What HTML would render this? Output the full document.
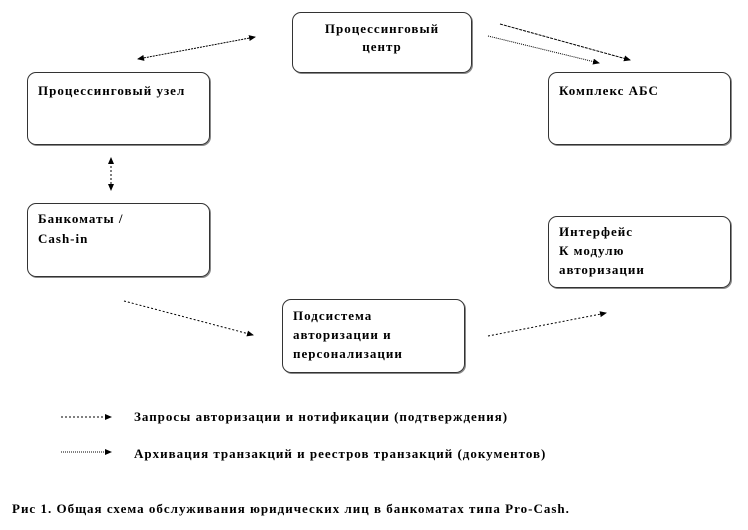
<!DOCTYPE html>
<html><head><meta charset="utf-8"><style>
body{margin:0;background:#fff;width:748px;height:530px;overflow:hidden;position:relative;font-family:"Liberation Serif",serif;font-weight:bold;font-size:13px;color:#000}
.b{position:absolute;border:1px solid #333;border-radius:9px;box-shadow:1px 1px 0 #888}
.t{position:absolute;white-space:nowrap;letter-spacing:1px}
svg{position:absolute;left:0;top:0}
</style></head><body>
<div class="b" style="left:292px;top:12px;width:178px;height:59px"></div>
<div class="b" style="left:27px;top:72px;width:181px;height:71px"></div>
<div class="b" style="left:548px;top:72px;width:181px;height:71px"></div>
<div class="b" style="left:27px;top:203px;width:181px;height:72px"></div>
<div class="b" style="left:548px;top:216px;width:181px;height:70px"></div>
<div class="b" style="left:282px;top:299px;width:181px;height:72px"></div>

<div class="t" style="left:292px;width:180px;text-align:center;top:21px">Процессинговый</div>
<div class="t" style="left:292px;width:180px;text-align:center;top:39px">центр</div>
<div class="t" style="left:38px;top:83px">Процессинговый узел</div>
<div class="t" style="left:559px;top:83px">Комплекс АБС</div>
<div class="t" style="left:38px;top:211px">Банкоматы /</div>
<div class="t" style="left:38px;top:231px">Cash-in</div>
<div class="t" style="left:559px;top:224px">Интерфейс</div>
<div class="t" style="left:559px;top:243px">К модулю</div>
<div class="t" style="left:559px;top:262px">авторизации</div>
<div class="t" style="left:293px;top:308px">Подсистема</div>
<div class="t" style="left:293px;top:327px">авторизации и</div>
<div class="t" style="left:293px;top:346px">персонализации</div>
<div class="t" style="left:134px;top:409px">Запросы авторизации и нотификации  (подтверждения)</div>
<div class="t" style="left:134px;top:446px">Архивация  транзакций и реестров транзакций (документов)</div>
<div class="t" style="left:12px;top:501px">Рис 1. Общая схема  обслуживания юридических лиц в банкоматах  типа Pro-Cash.</div>

<svg width="748" height="530">
<defs><marker id="a" markerWidth="8" markerHeight="8" refX="6" refY="3" orient="auto" markerUnits="userSpaceOnUse"><path d="M0,0L7,3L0,6z" fill="#000"/></marker>
<marker id="s" markerWidth="8" markerHeight="8" refX="1" refY="3" orient="auto" markerUnits="userSpaceOnUse"><path d="M7,0L0,3L7,6z" fill="#000"/></marker></defs>
<g stroke="#000" stroke-width="1" fill="none">
<line x1="138" y1="59" x2="255" y2="37" stroke-dasharray="2,1" marker-start="url(#s)" marker-end="url(#a)"/>
<line x1="500" y1="24" x2="630" y2="60" stroke-dasharray="3,1" marker-end="url(#a)"/>
<line x1="488" y1="36" x2="599" y2="63" stroke-dasharray="1,1" marker-end="url(#a)"/>
<line x1="111" y1="158" x2="111" y2="190" stroke-dasharray="2,2" marker-start="url(#s)" marker-end="url(#a)"/>
<line x1="124" y1="301" x2="253" y2="335" stroke-dasharray="2,2" marker-end="url(#a)"/>
<line x1="488" y1="336" x2="606" y2="313" stroke-dasharray="2,2" marker-end="url(#a)"/>
<line x1="61" y1="417" x2="111" y2="417" stroke-dasharray="2,2" marker-end="url(#a)"/>
<line x1="61" y1="452" x2="111" y2="452" stroke-dasharray="1,1" marker-end="url(#a)"/>
</g></svg>
</body></html>
